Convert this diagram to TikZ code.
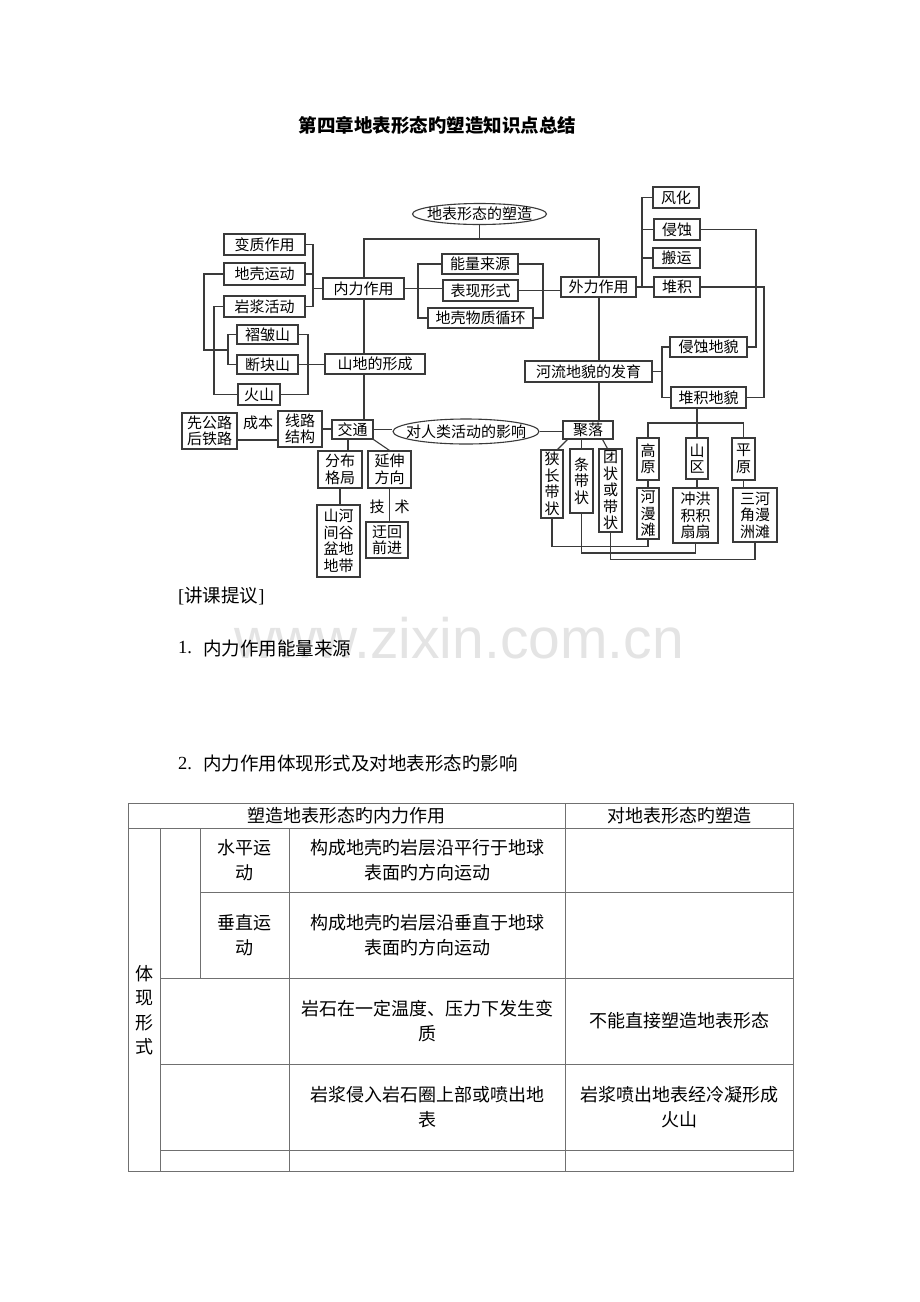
\documentclass[tikz,border=0pt]{standalone}
\usepackage{fontspec}
\setmainfont{Noto Sans CJK SC}
\newfontfamily\lat{Liberation Serif}
\newfontfamily\wmfont{Liberation Sans}
\usetikzlibrary{shapes.geometric,calc}
\definecolor{ln}{HTML}{3A3A3A}
\definecolor{tl}{HTML}{707070}
\definecolor{wmc}{HTML}{E4E4E4}
\newcommand\bx[6]{\node[bx, minimum width={(#4-#2)*1pt}, minimum height={(#5-#3)*1pt}] (#1) at ({(#2+#4)/2},{(#3+#5)/2}) {#6};}
\begin{document}
\begin{tikzpicture}[x=1pt,y=-1pt,
  bx/.style={draw=ln, line width=1.1pt, inner sep=0pt, align=center, fill=white, font=\fontsize{15}{16.5}\selectfont},
  ell/.style={ellipse, draw=ln, line width=1.1pt, inner sep=0pt, fill=white},
  dtxt/.style={inner sep=0pt, align=center, font=\fontsize{15}{16.5}\selectfont},
  cn/.style={draw=ln, line width=1.1pt},
  tline/.style={draw=tl, line width=0.9pt},
  tt/.style={inner sep=0pt, align=center, font=\fontsize{18}{24.5}\selectfont},
  hd/.style={inner sep=0pt, anchor=west, font=\fontsize{18.5}{22}\selectfont}]
\useasboundingbox[fill=white] (0,0) rectangle (920,1302);

% watermark
\node[inner sep=0pt, anchor=base, text=wmc, font=\wmfont\fontsize{57}{60}\selectfont] (wm) at (459,658) {www.zixin.com.cn};

% title
\node[inner sep=0pt, font=\bfseries\fontsize{18.5}{22}\selectfont] (title) at (437.5,125) {第四章地表形态旳塑造知识点总结};

% ---------------- diagram ----------------
% connectors first (boxes drawn on top)
\coordinate (tl) at (364,239);
\coordinate (tr) at (599,239);
\coordinate (vx) at (364,0);
\coordinate (lbt) at (313,244.5);
\coordinate (lbb) at (313,306.5);
\coordinate (kL) at (204,350);
\coordinate (kR) at (228,350);
\coordinate (mL) at (214,394.5);
\coordinate (mR) at (308,364.5);
\coordinate (cb) at (0,440);
\coordinate (fx) at (348,0);
\coordinate (mlT) at (418,264);
\coordinate (mlB) at (418,318);
\coordinate (mrT) at (543,264);
\coordinate (mrB) at (543,318);
\coordinate (rb) at (642,197.5);
\coordinate (rb2) at (642,287);
\coordinate (q1) at (756,347);
\coordinate (d1) at (764,397.5);
\coordinate (h1) at (662,347);
\coordinate (h2) at (662,397.5);
\coordinate (pjr) at (743.5,423);
\coordinate (b1) at (0,546.5);
\coordinate (b2) at (0,553);
\coordinate (b3) at (0,559.5);

% nodes
\node[ell, minimum width=134pt, minimum height=21pt] (root) at (479.5,214) {};
\node[dtxt] at (root) {地表形态的塑造};
\bx{bzzy}{224}{234}{305}{255}{变质作用}
\bx{dkyd}{224}{263}{305}{285}{地壳运动}
\bx{yjhd}{224}{296}{305}{317}{岩浆活动}
\bx{nlzy}{323}{278}{404}{299}{内力作用}
\bx{zzs}{237}{325}{298}{344}{褶皱山}
\bx{dks}{237}{355}{298}{374}{断块山}
\bx{hs}{238}{384}{280}{405}{火山}
\bx{sdxc}{325}{354}{425}{374}{山地的形成}
\bx{nlly}{442}{254}{518}{274}{能量来源}
\bx{bxxs}{443}{280}{518}{301}{表现形式}
\bx{dkwz}{428}{308}{533}{328}{地壳物质循环}
\bx{wlzy}{561}{277}{636}{297}{外力作用}
\bx{fh}{653}{187}{699}{208}{风化}
\bx{qs}{654}{219}{700}{240}{侵蚀}
\bx{by}{653}{248}{700}{268}{搬运}
\bx{dj}{654}{277}{700}{297}{堆积}
\bx{hlfy}{525}{361}{652}{382}{河流地貌的发育}
\bx{qsdm}{670}{337}{747}{357}{侵蚀地貌}
\bx{djdm}{671}{387}{746}{408}{堆积地貌}
\bx{jt}{332}{420}{373}{439}{交通}
\bx{xljg}{278}{411}{322}{447}{线路\\结构}
\bx{xgl}{182}{413}{237}{449}{先公路\\后铁路}
\bx{fbgj}{318}{451}{362}{488}{分布\\格局}
\bx{ysfx}{368}{451}{411}{488}{延伸\\方向}
\bx{shjg}{317}{505}{360}{577}{山河\\间谷\\盆地\\地带}
\bx{yhqj}{366}{522}{408}{558}{迂回\\前进}
\node[ell, minimum width=146pt, minimum height=25pt] (imp) at (466,431.5) {};
\node[dtxt] at (imp) {对人类活动的影响};
\bx{jl}{563}{421}{613}{439}{聚落}
\bx{xcdz}{541}{450}{563}{518}{狭\\长\\带\\状}
\bx{tdz}{570}{449}{593}{513}{条\\带\\状}
\bx{tzdz}{599}{449}{622}{532}{团\\状\\或\\带\\状}
\bx{gy}{637}{438}{659}{480}{高\\原}
\bx{sq}{686}{438}{708}{479}{山\\区}
\bx{py}{732}{438}{755}{480}{平\\原}
\bx{hmt}{637}{488}{659}{539}{河\\漫\\滩}
\bx{chjs}{673}{488}{718}{543}{冲洪\\积积\\扇扇}
\bx{sjz}{733}{488}{777}{542}{三河\\角漫\\洲滩}

% connectors
\draw[cn] (root.south) -- (root.south |- tl);
\draw[cn] (nlzy.north -| tl) -- (tl) -- (tr) -- (wlzy.north -| tr);
\draw[cn] (bzzy.east) -- (lbt) -- (lbb) -- (yjhd.east);
\draw[cn] (dkyd.east) -- (dkyd.east -| lbt);
\draw[cn] (nlzy.west) -- (nlzy.west -| lbt);
\draw[cn] (dkyd.west) -| (kL) -- (kR);
\draw[cn] (zzs.west) -| (kR) |- (dks.west);
\draw[cn] (yjhd.west) -| (mL) -- (hs.west);
\draw[cn] (zzs.east) -| (mR) |- (hs.east);
\draw[cn] (dks.east) -- (dks.east -| sdxc.west);
\draw[cn] (nlzy.south -| vx) -- (sdxc.north -| vx);
\draw[cn] (sdxc.south -| vx) -- (jt.north -| vx);
\draw[cn] (xljg.east) -- (xljg.east -| jt.west);
\draw[cn] (xgl.east |- cb) -- (xljg.west |- cb);
\node[dtxt] (cbl) at (258,423) {成本};
\draw[cn] (jt.east) -- (jt.east -| imp.west);
\draw[cn] (imp.east) -- (imp.east -| jl.west);
\draw[cn] (jt.south -| fx) -- (fbgj.north -| fx);
\draw[cn] (jt.south east) -- (ysfx.north);
\draw[cn] (fbgj.south) -- (fbgj.south |- shjg.north);
\draw[cn] (ysfx.south) -- (ysfx.south |- yhqj.north);
\node[dtxt] (js1) at (377,507) {技};
\node[dtxt] (js2) at (402,507) {术};
\draw[cn] (nlly.west) -- (mlT) -- (mlB) -- (dkwz.west);
\draw[cn] (nlzy.east) -- (nlzy.east -| bxxs.west);
\draw[cn] (nlly.east) -- (mrT) -- (mrB) -- (dkwz.east);
\draw[cn] (bxxs.east) -- (bxxs.east -| wlzy.west);
\draw[cn] (wlzy.south -| tr) -- (hlfy.north -| tr);
\draw[cn] (hlfy.south -| tr) -- (jl.north -| tr);
\draw[cn] (fh.west) -- (rb) -- (rb2) -- (dj.west);
\draw[cn] (qs.west) -- (qs.west -| rb);
\draw[cn] (by.west) -- (by.west -| rb);
\draw[cn] (wlzy.east) -- (wlzy.east -| rb);
\draw[cn] (qs.east) -| (q1) -- (qsdm.east);
\draw[cn] (dj.east) -| (d1) -- (djdm.east);
\draw[cn] (qsdm.west) -- (h1) -- (h2) -- (djdm.west);
\draw[cn] (hlfy.east) -- (hlfy.east -| h1);
\draw[cn] (sq.north) -- (sq.north |- djdm.south);
\draw[cn] (gy.north) |- (pjr) -- (py.north);
\draw[cn] (gy.south) -- (hmt.north);
\draw[cn] (sq.south) -- (sq.south |- chjs.north);
\draw[cn] (py.south) -- (py.south |- sjz.north);
\draw[cn] ([xshift=5pt]jl.south west) -- ([xshift=-6pt]xcdz.north east);
\draw[cn] (tdz.north |- jl.south) -- (tdz.north);
\draw[cn] ([xshift=-11pt]jl.south east) -- ([xshift=9pt]tzdz.north west);
\draw[cn] (xcdz.south) |- (hmt.south |- b1) -- (hmt.south);
\draw[cn] (tdz.south) |- (chjs.south |- b2) -- (chjs.south);
\draw[cn] (tzdz.south) |- (sjz.south |- b3) -- (sjz.south);

% ---------------- text ----------------
\node[hd] (jk) at (178,596) {\lat[\normalfont 讲课提议\lat]};
\node[hd] (n1) at (178,648) {\lat 1.};
\node[hd] (h1t) at (203,648) {内力作用能量来源};
\node[hd] (n2) at (178,763) {\lat 2.};
\node[hd] (h2t) at (203,763) {内力作用体现形式及对地表形态旳影响};

% ---------------- table ----------------
\draw[tline] (128,803) rectangle (793,1171);
\draw[tline] (128,828) -- (793,828);
\draw[tline] (565,803) -- (565,1171);
\draw[tline] (160,828) -- (160,1171);
\draw[tline] (200,828) -- (200,978);
\draw[tline] (289,828) -- (289,1171);
\draw[tline] (200,892) -- (793,892);
\draw[tline] (160,978) -- (793,978);
\draw[tline] (160,1064) -- (793,1064);
\draw[tline] (160,1150) -- (793,1150);

\node[tt] (c01) at (346.5,815.5) {塑造地表形态旳内力作用};
\node[tt] (c02) at (679,815.5) {对地表形态旳塑造};
\node[tt] (c10) at (144,1010) {体\\现\\形\\式};
\node[tt] (c11) at (244.5,860) {水平运\\动};
\node[tt] (c12) at (427,860) {构成地壳旳岩层沿平行于地球\\表面旳方向运动};
\node[tt] (c21) at (244.5,935) {垂直运\\动};
\node[tt] (c22) at (427,935) {构成地壳旳岩层沿垂直于地球\\表面旳方向运动};
\node[tt] (c32) at (427,1021) {岩石在一定温度、压力下发生变\\质};
\node[tt] (c33) at (679,1021) {不能直接塑造地表形态};
\node[tt] (c42) at (427,1107) {岩浆侵入岩石圈上部或喷出地\\表};
\node[tt] (c43) at (679,1107) {岩浆喷出地表经冷凝形成\\火山};
\end{tikzpicture}
\end{document}
